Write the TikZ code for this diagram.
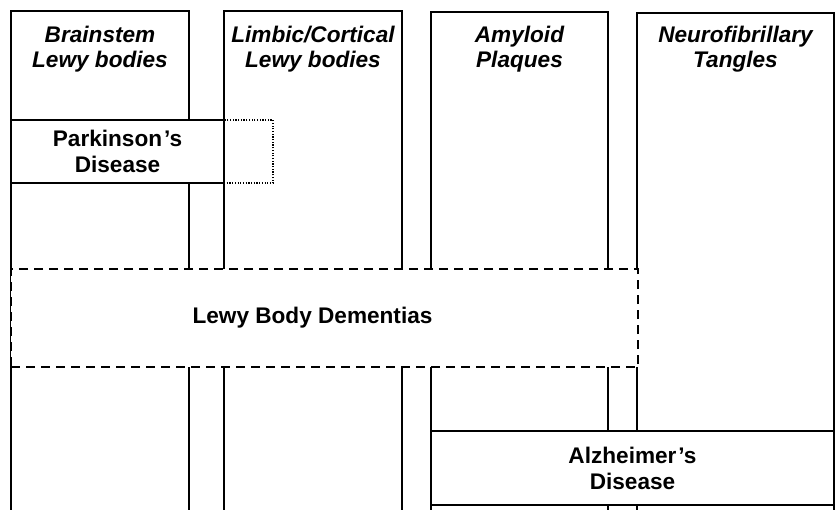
\documentclass[tikz,border=0pt]{standalone}
\usepackage{fontspec}
\setmainfont{Liberation Sans}
\usetikzlibrary{calc}
\begin{document}
\begin{tikzpicture}[x=1pt,y=-1pt,
  col/.style={draw, line width=2.2pt, anchor=north west, inner sep=0pt, outer sep=0pt, minimum height=530pt},
  hdr/.style={font=\fontsize{22.6}{24.5}\selectfont\bfseries\itshape, align=center, inner sep=0pt},
  lbl/.style={font=\fontsize{22.6}{26}\selectfont\bfseries, align=center, inner sep=0pt},
  solidbox/.style={draw, fill=white, line width=2.2pt, inner sep=0pt, outer sep=0pt},
  dashbox/.style={draw, fill=white, line width=2.2pt, dash pattern=on 9pt off 6pt, inner sep=0pt, outer sep=0pt},
  dotbox/.style={draw, line width=1.2pt, dash pattern=on 1.2pt off 1.5pt, inner sep=0pt, outer sep=0pt}
]
\useasboundingbox (0,0) rectangle (835,509);
\clip (0,0) rectangle (835,509);
% columns
\node[col, minimum width=178pt] (c1) at (11,11) {};
\node[col, minimum width=178pt] (c2) at (224,11) {};
\node[col, minimum width=177pt] (c3) at (431,12) {};
\node[col, minimum width=197pt] (c4) at (637,13) {};
% headers
\node[hdr] (h1) at ($(c1.north)+(0,38)$) {Brainstem\\Lewy bodies};
\node[hdr] (h2) at ($(c2.north)+(0,38)$) {Limbic/Cortical\\Lewy bodies};
\node[hdr] (h3) at ($(c3.north)+(0,37)$) {Amyloid\\Plaques};
\node[hdr] (h4) at ($(c4.north)+(0,36)$) {Neurofibrillary\\Tangles};
% Parkinson's disease
\node[solidbox, lbl, minimum width=213pt, minimum height=63pt] (pd) at (117.5,151.5) {Parkinson\kern2pt’s\\Disease};
\node[dotbox, minimum width=49pt, minimum height=63pt, anchor=west] (pdx) at (pd.east) {};
% Lewy body dementias
\node[dashbox, minimum width=627pt, minimum height=98pt] (lbd) at (324.5,318) {};
\node[lbl] (lbdt) at (312.5,318) {Lewy Body Dementias};
% Alzheimer's disease
\node[solidbox, lbl, minimum width=403pt, minimum height=74pt] (ad) at (632.5,468) {Alzheimer\kern2pt’s\\Disease};
\end{tikzpicture}
\end{document}
